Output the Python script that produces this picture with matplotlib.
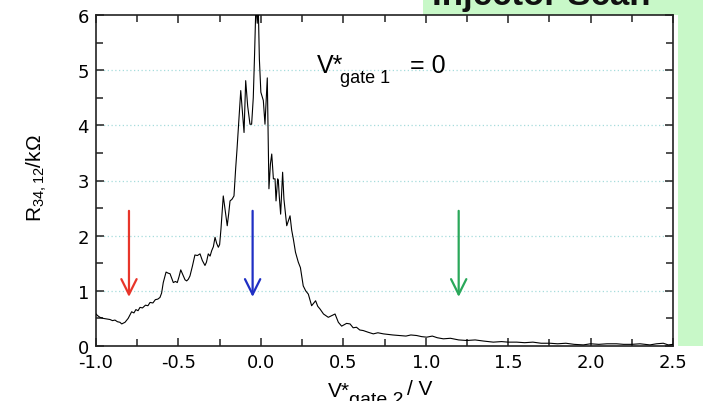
import matplotlib
matplotlib.use('Agg')
import matplotlib.pyplot as plt
from matplotlib.patches import Rectangle
from matplotlib.ticker import MultipleLocator

plt.rcParams['font.family'] = 'DejaVu Sans'
plt.rcParams['axes.unicode_minus'] = False
plt.rcParams['mathtext.fontset'] = 'custom'
plt.rcParams['mathtext.rm'] = 'Liberation Sans'
plt.rcParams['mathtext.it'] = 'Liberation Sans:italic'

# four-terminal resistance vs gate 2 voltage (gate 1 held at 0)
v_gate2 = [-1.000, -0.990, -0.976, -0.955, -0.935, -0.915, -0.900, -0.885, -0.870, -0.855,
           -0.844, -0.824, -0.805, -0.784, -0.770, -0.758, -0.745, -0.733, -0.718, -0.700,
           -0.685, -0.672, -0.655, -0.640, -0.625, -0.612, -0.602, -0.592, -0.575, -0.562,
           -0.551, -0.540, -0.531, -0.518, -0.507, -0.496, -0.486, -0.470, -0.460, -0.450,
           -0.440, -0.430, -0.415, -0.400, -0.385, -0.369, -0.355, -0.339, -0.330, -0.319,
           -0.308, -0.298, -0.288, -0.278, -0.268, -0.258, -0.250, -0.242, -0.228, -0.216,
           -0.204, -0.195, -0.187, -0.175, -0.163, -0.153, -0.145, -0.137, -0.122, -0.112,
           -0.102, -0.092, -0.080, -0.066, -0.056, -0.046, -0.038, -0.030, -0.022, -0.016,
           -0.009, 0.000, 0.015, 0.025, 0.039, 0.049, 0.058, 0.066, 0.076, 0.086, 0.092,
           0.102, 0.106, 0.112, 0.120, 0.132, 0.140, 0.157, 0.168, 0.177, 0.187,
           0.197, 0.210, 0.227, 0.240, 0.257, 0.272, 0.288, 0.308, 0.332, 0.345,
           0.359, 0.380, 0.409, 0.430, 0.450, 0.470, 0.490, 0.520, 0.541, 0.560,
           0.580, 0.600, 0.621, 0.650, 0.682, 0.710, 0.743, 0.770, 0.800, 0.844,
           0.880, 0.910, 0.945, 0.975, 1.006, 1.040, 1.070, 1.107, 1.150, 1.200,
           1.249, 1.300, 1.350, 1.410, 1.460, 1.500, 1.552, 1.600, 1.650, 1.700,
           1.754, 1.800, 1.850, 1.900, 1.956, 2.000, 2.050, 2.100, 2.158, 2.200,
           2.250, 2.300, 2.360, 2.400, 2.441, 2.471, 2.500]
r_3412 = [0.58, 0.55, 0.52, 0.50, 0.49, 0.48, 0.46, 0.47, 0.44, 0.43,
          0.40, 0.43, 0.50, 0.62, 0.60, 0.66, 0.64, 0.70, 0.69, 0.74,
          0.73, 0.79, 0.78, 0.84, 0.85, 0.88, 0.96, 1.15, 1.34, 1.32,
          1.31, 1.22, 1.15, 1.17, 1.15, 1.26, 1.38, 1.27, 1.20, 1.18,
          1.21, 1.27, 1.45, 1.65, 1.64, 1.67, 1.55, 1.46, 1.52, 1.67,
          1.63, 1.73, 1.80, 1.97, 1.86, 1.79, 1.84, 2.12, 2.72, 2.45,
          2.18, 2.40, 2.63, 2.66, 2.72, 3.21, 3.55, 3.93, 4.63, 4.25,
          3.87, 4.81, 4.35, 4.02, 4.02, 4.50, 5.30, 6.20, 5.85, 6.20,
          5.20, 4.60, 4.45, 4.02, 4.86, 2.85, 3.30, 3.48, 3.03, 3.03, 2.63,
          3.03, 3.00, 2.70, 2.39, 3.15, 2.66, 2.18, 2.28, 2.36, 2.10,
          1.94, 1.70, 1.52, 1.42, 1.09, 1.00, 0.94, 0.73, 0.82, 0.72,
          0.67, 0.58, 0.52, 0.55, 0.58, 0.43, 0.36, 0.41, 0.40, 0.33,
          0.34, 0.29, 0.28, 0.25, 0.22, 0.24, 0.22, 0.21, 0.20, 0.19,
          0.18, 0.20, 0.19, 0.17, 0.16, 0.18, 0.15, 0.13, 0.14, 0.11,
          0.10, 0.11, 0.09, 0.07, 0.08, 0.07, 0.07, 0.06, 0.07, 0.05,
          0.05, 0.04, 0.05, 0.03, 0.02, 0.04, 0.03, 0.04, 0.04, 0.03,
          0.03, 0.04, 0.02, 0.04, 0.05, 0.02, 0.03]

# positions of the three operating points marked by arrows
arrow_x = [-0.80, -0.05, 1.20]
arrow_colors = ['#e8352a', '#1f2fc4', '#2aa85a']
arrow_top = 2.45
arrow_tip = 0.89

grid_levels = [1, 2, 3, 4, 5]

fig = plt.figure(figsize=(7.03, 4.02), dpi=100)

# green title panel sitting behind the plot, mostly hidden
fig.patches.append(Rectangle((423 / 703, 55 / 402), 280 / 703, 347 / 402,
                             transform=fig.transFigure, facecolor='#c8f8c8',
                             edgecolor='none', zorder=1))
fig.text(541 / 703, 1 - 5 / 402, 'Injector Scan', ha='center', va='baseline',
         fontsize=25, fontweight='bold', family='Liberation Sans',
         color='#111111', zorder=2)
fig.patches.append(Rectangle((0, 0), 678 / 703, 386 / 402,
                             transform=fig.transFigure, facecolor='white',
                             edgecolor='none', zorder=3))

ax = fig.add_axes([96 / 703, 55 / 402, 577 / 703, 331 / 402])
ax.set_zorder(5)

for lv in grid_levels:
    ax.axhline(lv, color='#a6dcdc', lw=0.9, ls=(0, (1, 2)), zorder=1)

ax.plot(v_gate2, r_3412, color='black', lw=0.8, zorder=3)

for xa, c in zip(arrow_x, arrow_colors):
    ax.annotate('', xy=(xa, arrow_tip), xytext=(xa, arrow_top),
                arrowprops=dict(arrowstyle='->,head_length=1.1,head_width=0.55',
                                color=c, lw=1.6, shrinkA=0, shrinkB=0),
                zorder=4)

ax.set_xlim(-1.0, 2.5)
ax.set_ylim(0, 6)
ax.xaxis.set_major_locator(MultipleLocator(0.5))
ax.xaxis.set_minor_locator(MultipleLocator(0.25))
ax.yaxis.set_major_locator(MultipleLocator(1))
ax.yaxis.set_minor_locator(MultipleLocator(0.5))
ax.tick_params(which='both', direction='in', top=True, right=True,
               width=1.1, color='#222222')
ax.tick_params(which='major', length=6, labelsize=13)
ax.tick_params(which='minor', length=5)
ax.tick_params(axis='x', pad=5)
ax.tick_params(axis='y', pad=5)
for s in ax.spines.values():
    s.set_linewidth(1.2)
    s.set_color('#222222')

ax.set_ylabel('R$_{34,12}$/kΩ', family='Liberation Sans', fontsize=15)
ax.yaxis.set_label_coords(-0.082, 0.51)

# x axis label written in pieces so the subscript sits low like the y one
xl = dict(transform=ax.transAxes, family='Liberation Sans', clip_on=False)
ax.text(0.402, -0.151, 'V*', fontsize=15, **xl)
ax.text(0.439, -0.175, 'gate 2', fontsize=14, **xl)
ax.text(0.539, -0.145, '/ V', fontsize=15, **xl)

# gate 1 condition
ax.text(0.34, 4.97, 'V*', fontsize=18, family='Liberation Sans')
ax.text(0.48, 4.79, 'gate 1', fontsize=13, family='Liberation Sans')
ax.text(0.905, 4.97, '= 0', fontsize=18, family='Liberation Sans')

fig.savefig('out.png', dpi=100)
